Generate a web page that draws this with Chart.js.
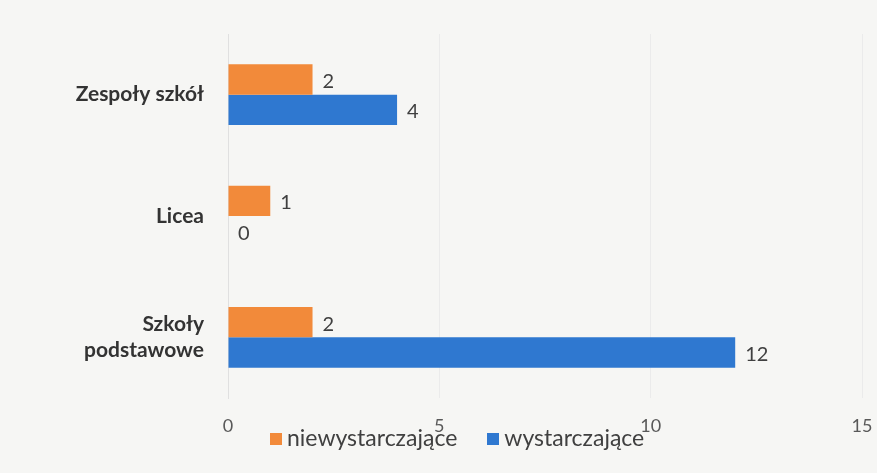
<!DOCTYPE html>
<html lang="pl">
<head>
<meta charset="UTF-8">
<title>Wykres</title>
<script src="https://cdn.jsdelivr.net/npm/chart.js"></script>
<style>
    body { margin: 0; background: #f6f6f4; font-family: Lato, "Open Sans", sans-serif; }
    .wrap { position: relative; width: 877px; height: 473px; }
    canvas { position: absolute; left: 0; top: 0; }
    .legend { position: absolute; left: 270px; top: 423px; font-size: 23px; color: #404040; white-space: nowrap; }
    .legend span.box { display: inline-block; width: 12px; height: 12px; margin-right: 5px; vertical-align: 1px; }
    .legend span.item { margin-right: 30px; }
</style>
</head>
<body>
<div class="wrap">
    <canvas id="chart" width="877" height="473"></canvas>
    <div class="legend" id="legend"></div>
</div>
<script>
    const categories = ['Zespoły szkół', 'Licea', ['Szkoły', 'podstawowe']];
    const niewystarczajace = [2, 1, 2];
    const wystarczajace = [4, 0, 12];
    const seriesNames = ['niewystarczające', 'wystarczające'];
    const seriesColors = ['#f28a3a', '#2f78d0'];

    // etykiety wartości przy końcu słupka
    const valueLabels = {
        id: 'valueLabels',
        afterDatasetsDraw(chart) {
            const ctx = chart.ctx;
            ctx.save();
            ctx.font = '20px Lato, "Open Sans", sans-serif';
            ctx.fillStyle = '#404040';
            ctx.textAlign = 'left';
            ctx.textBaseline = 'middle';
            chart.data.datasets.forEach((ds, i) => {
                chart.getDatasetMeta(i).data.forEach((bar, j) => {
                    ctx.fillText(ds.data[j], bar.x + 10, bar.y + 2);
                });
            });
            ctx.restore();
        }
    };

    // bez dodatkowego miejsca na krańcowe etykiety osi
    function noEdgePadding(s) {
        s.paddingTop = 0; s.paddingBottom = 0; s.paddingLeft = 0; s.paddingRight = 0;
    }

    new Chart(document.getElementById('chart'), {
        type: 'bar',
        data: {
            labels: categories,
            datasets: [
                { label: seriesNames[0], data: niewystarczajace, backgroundColor: seriesColors[0] },
                { label: seriesNames[1], data: wystarczajace, backgroundColor: seriesColors[1] }
            ]
        },
        options: {
            indexAxis: 'y',
            responsive: false,
            animation: false,
            layout: { padding: { left: 0, right: 15, top: 34, bottom: 0 } },
            datasets: { bar: { categoryPercentage: 0.5, barPercentage: 1.0 } },
            scales: {
                x: {
                    min: 0, max: 15,
                    ticks: { stepSize: 5, padding: 17, color: '#595959', font: { size: 18, family: 'Lato, "Open Sans", sans-serif' } },
                    grid: { color: '#ebebeb', drawTicks: false },
                    border: { display: false },
                    afterFit: (s) => { s.height = 75; noEdgePadding(s); }
                },
                y: {
                    ticks: { padding: 16, color: '#333333', font: { size: 21, weight: 'bold', family: 'Lato, "Open Sans", sans-serif' } },
                    grid: { display: false },
                    border: { display: true, color: '#e0e0e0' },
                    afterFit: (s) => { s.width = 228; noEdgePadding(s); }
                }
            },
            plugins: {
                legend: { display: false },
                tooltip: { enabled: false }
            }
        },
        plugins: [valueLabels]
    });

    let legend = document.getElementById('legend');
    seriesNames.forEach((name, i) => {
        let item = document.createElement('span');
        item.className = 'item';
        item.innerHTML = '<span class="box" style="background:' + seriesColors[i] + '"></span>' + name;
        legend.appendChild(item);
    });
</script>
</body>
</html>
